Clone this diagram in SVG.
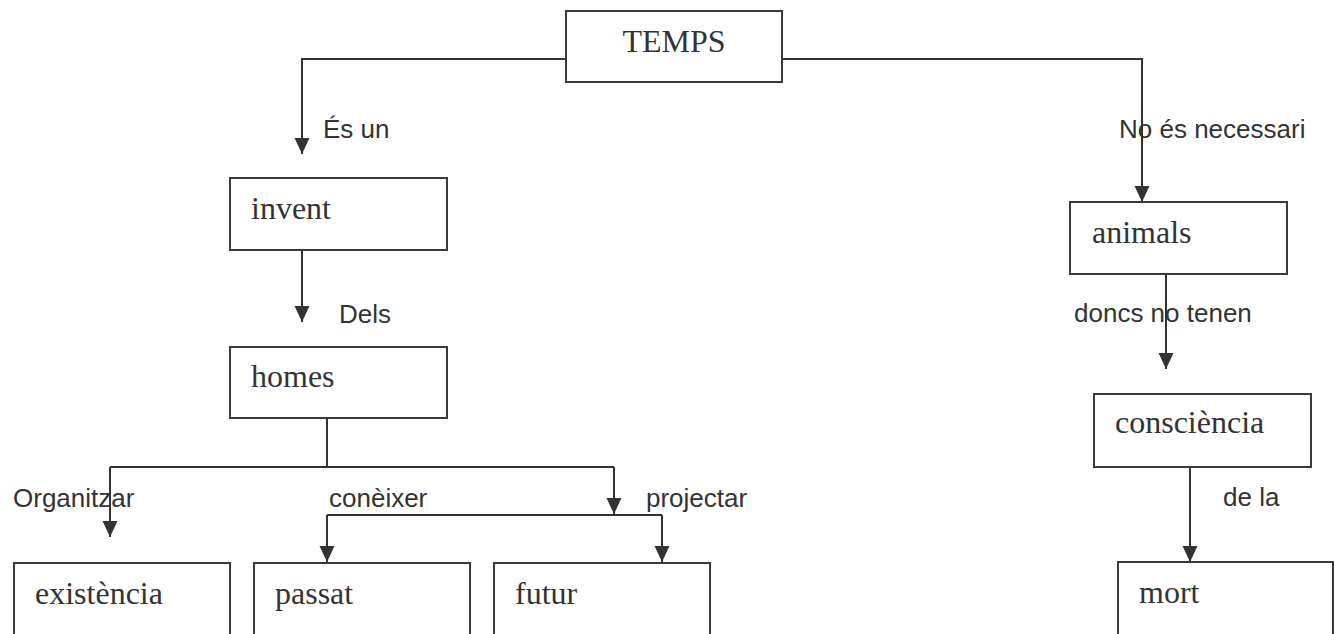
<svg xmlns="http://www.w3.org/2000/svg" width="1334" height="634" viewBox="0 0 1334 634">
<defs>
<style>
.box{fill:#fff;stroke:#3a3a3a;stroke-width:2}
.nt{font-family:"Liberation Serif","Times New Roman",serif;font-size:32px;fill:#333}
.lb{font-family:"Liberation Sans",Arial,sans-serif;font-size:26px;fill:#333}
.ln{fill:none;stroke:#333;stroke-width:2}
</style>
<marker id="ah" viewBox="0 0 16 16" refX="16" refY="8" markerWidth="16" markerHeight="16" markerUnits="userSpaceOnUse" orient="auto">
<path d="M0,0.5 L16,8 L0,15.5 Z" fill="#333"/>
</marker>
</defs>
<rect width="1334" height="634" fill="#fff"/>
<g id="connectors">
<path class="ln" d="M566,59 H302 V154" marker-end="url(#ah)"/>
<path class="ln" d="M782,59 H1142 V202" marker-end="url(#ah)"/>
<path class="ln" d="M302,250 V322" marker-end="url(#ah)"/>
<path class="ln" d="M1166,274 V369" marker-end="url(#ah)"/>
<path class="ln" d="M1190,467 V562" marker-end="url(#ah)"/>
<path class="ln" d="M327,419 V467"/>
<path class="ln" d="M110,467 H614"/>
<path class="ln" d="M110,467 V537" marker-end="url(#ah)"/>
<path class="ln" d="M614,467 V514" marker-end="url(#ah)"/>
<path class="ln" d="M327,515 H662"/>
<path class="ln" d="M327,515 V562" marker-end="url(#ah)"/>
<path class="ln" d="M662,515 V562" marker-end="url(#ah)"/>
<text class="lb" x="323" y="138">És un</text>
<text class="lb" x="1119" y="138">No és necessari</text>
<text class="lb" x="339" y="323">Dels</text>
<text class="lb" x="1074" y="322">doncs no tenen</text>
<text class="lb" x="13" y="507">Organitzar</text>
<text class="lb" x="329" y="507">conèixer</text>
<text class="lb" x="646" y="507">projectar</text>
<text class="lb" x="1223" y="506">de la</text>
</g>
<g id="temps"><rect class="box" x="566" y="11" width="216" height="71"/><text class="nt" x="674" y="52" text-anchor="middle">TEMPS</text></g>
<g id="invent"><rect class="box" x="230" y="178" width="217" height="72"/><text class="nt" x="251" y="219">invent</text></g>
<g id="homes"><rect class="box" x="230" y="347" width="217" height="71"/><text class="nt" x="251" y="387">homes</text></g>
<g id="animals"><rect class="box" x="1070" y="202" width="217" height="72"/><text class="nt" x="1092" y="243">animals</text></g>
<g id="consciencia"><rect class="box" x="1094" y="394" width="217" height="73"/><text class="nt" x="1115" y="433">consciència</text></g>
<g id="existencia"><rect class="box" x="14" y="563" width="216" height="74"/><text class="nt" x="35" y="604">existència</text></g>
<g id="passat"><rect class="box" x="254" y="563" width="216" height="74"/><text class="nt" x="275" y="604">passat</text></g>
<g id="futur"><rect class="box" x="494" y="563" width="216" height="74"/><text class="nt" x="515" y="604">futur</text></g>
<g id="mort"><rect class="box" x="1118" y="562" width="215" height="75"/><text class="nt" x="1139" y="603">mort</text></g>
</svg>
